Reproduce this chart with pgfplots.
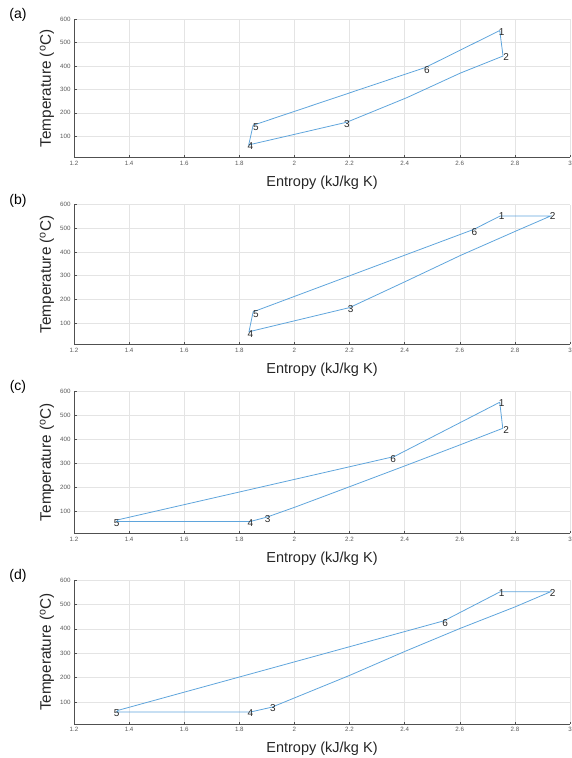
\documentclass[border=0pt]{standalone}
\usepackage{fontspec}
\setmainfont{Liberation Sans}
\usepackage{pgfplots}
\pgfplotsset{compat=1.18}

\definecolor{cyc}{RGB}{95,165,220}
\definecolor{gridc}{RGB}{228,228,228}
\definecolor{axc}{RGB}{80,80,80}

\pgfplotsset{
  tsax/.style={
    scale only axis, width=496pt,
    xmin=1.2, xmax=3, ymin=10, ymax=600,
    xtick={1.2,1.4,1.6,1.8,2,2.2,2.4,2.6,2.8,3},
    ytick={100,200,300,400,500,600},
    axis lines=left, axis line style={-, draw=axc, line width=0.6pt},
    tick align=inside, major tick length=2.5pt,
    tick style={draw=axc, line width=0.5pt},
    grid=major, grid style={draw=gridc, line width=0.5pt},
    /pgf/number format/assume math mode=true,
    ticklabel style={font=\fontsize{6.2}{7}\selectfont, text=black!65},
    xlabel={Entropy (kJ/kg K)},
    ylabel={Temperature (\textsuperscript{o}C)},
    label style={text=black!85},
    xlabel style={font=\fontsize{14.5}{16}\selectfont,
      at={([yshift=-25pt]axis description cs:0.5,0)}, anchor=center},
    ylabel style={font=\fontsize{15.3}{17}\selectfont,
      at={([xshift=-27pt]axis description cs:0,0.5)}, anchor=center},
  },
  cycline/.style={draw=cyc, line width=0.8pt, mark=none},
  labs/.style={draw=none, mark=none, nodes near coords, point meta=explicit symbolic,
    every node near coord/.append style={anchor=center, inner sep=0pt,
      font=\fontsize{10}{11}\selectfont, text=black!85}},
}

\begin{document}
\begin{tikzpicture}

% (a)
\begin{axis}[tsax, name=pa, height=138pt, at={(74pt,600.7pt)}, anchor=south west]
\addplot[cycline] coordinates {
  (2.745,552) (2.757,443) (2.602,370) (2.408,265) (2.19,160) (2.0,108)
  (1.834,63) (1.85,147) (2.475,394) (2.745,552)
};
\addplot[labs] coordinates {
  (2.752,547) [1] (2.768,439) [2] (2.190,151) [3]
  (1.840,56) [4] (1.860,138) [5] (2.481,383) [6]
};
\end{axis}
\node[font=\fontsize{14}{16}\selectfont] at ([xshift=-56pt,yshift=4pt]pa.north west) {(a)};

% (b)
\begin{axis}[tsax, name=pb, height=139.7pt, at={(74pt,413.7pt)}, anchor=south west]
\addplot[cycline] coordinates {
  (2.747,552) (2.93,552) (2.807,490) (2.602,385) (2.408,278) (2.2,165)
  (1.835,63) (1.85,147) (2.65,495) (2.747,552)
};
\addplot[labs] coordinates {
  (2.752,551) [1] (2.937,551) [2] (2.204,159) [3]
  (1.840,55) [4] (1.860,139) [5] (2.653,484) [6]
};
\end{axis}
\node[font=\fontsize{14}{16}\selectfont] at ([xshift=-56pt,yshift=4pt]pb.north west) {(b)};

% (c)
\begin{axis}[tsax, name=pc, height=142.4pt, at={(74pt,224.7pt)}, anchor=south west]
\addplot[cycline] coordinates {
  (2.745,553) (2.756,445) (2.6,376) (2.4,289) (2.2,203) (2.006,120)
  (1.90,77) (1.84,59) (1.355,59) (1.36,66) (2.362,328) (2.745,553)
};
\addplot[labs] coordinates {
  (2.752,549) [1] (2.768,436) [2] (1.903,68) [3]
  (1.840,54) [4] (1.355,54) [5] (2.358,318) [6]
};
\end{axis}
\node[font=\fontsize{14}{16}\selectfont] at ([xshift=-56pt,yshift=4pt]pc.north west) {(c)};

% (d)
\begin{axis}[tsax, name=pd, height=144pt, at={(74pt,34pt)}, anchor=south west]
\addplot[cycline] coordinates {
  (2.747,552) (2.93,552) (2.801,490) (2.602,402) (2.402,308) (2.202,210)
  (1.918,79) (1.84,59) (1.355,59) (1.36,66) (2.543,433) (2.747,552)
};
\addplot[labs] coordinates {
  (2.752,548) [1] (2.937,548) [2] (1.922,74) [3]
  (1.840,54) [4] (1.355,54) [5] (2.547,425) [6]
};
\end{axis}
\node[font=\fontsize{14}{16}\selectfont] at ([xshift=-56pt,yshift=4pt]pd.north west) {(d)};

\pgfresetboundingbox
\useasboundingbox (0,0) rectangle (571pt,758pt);
\end{tikzpicture}
\end{document}
